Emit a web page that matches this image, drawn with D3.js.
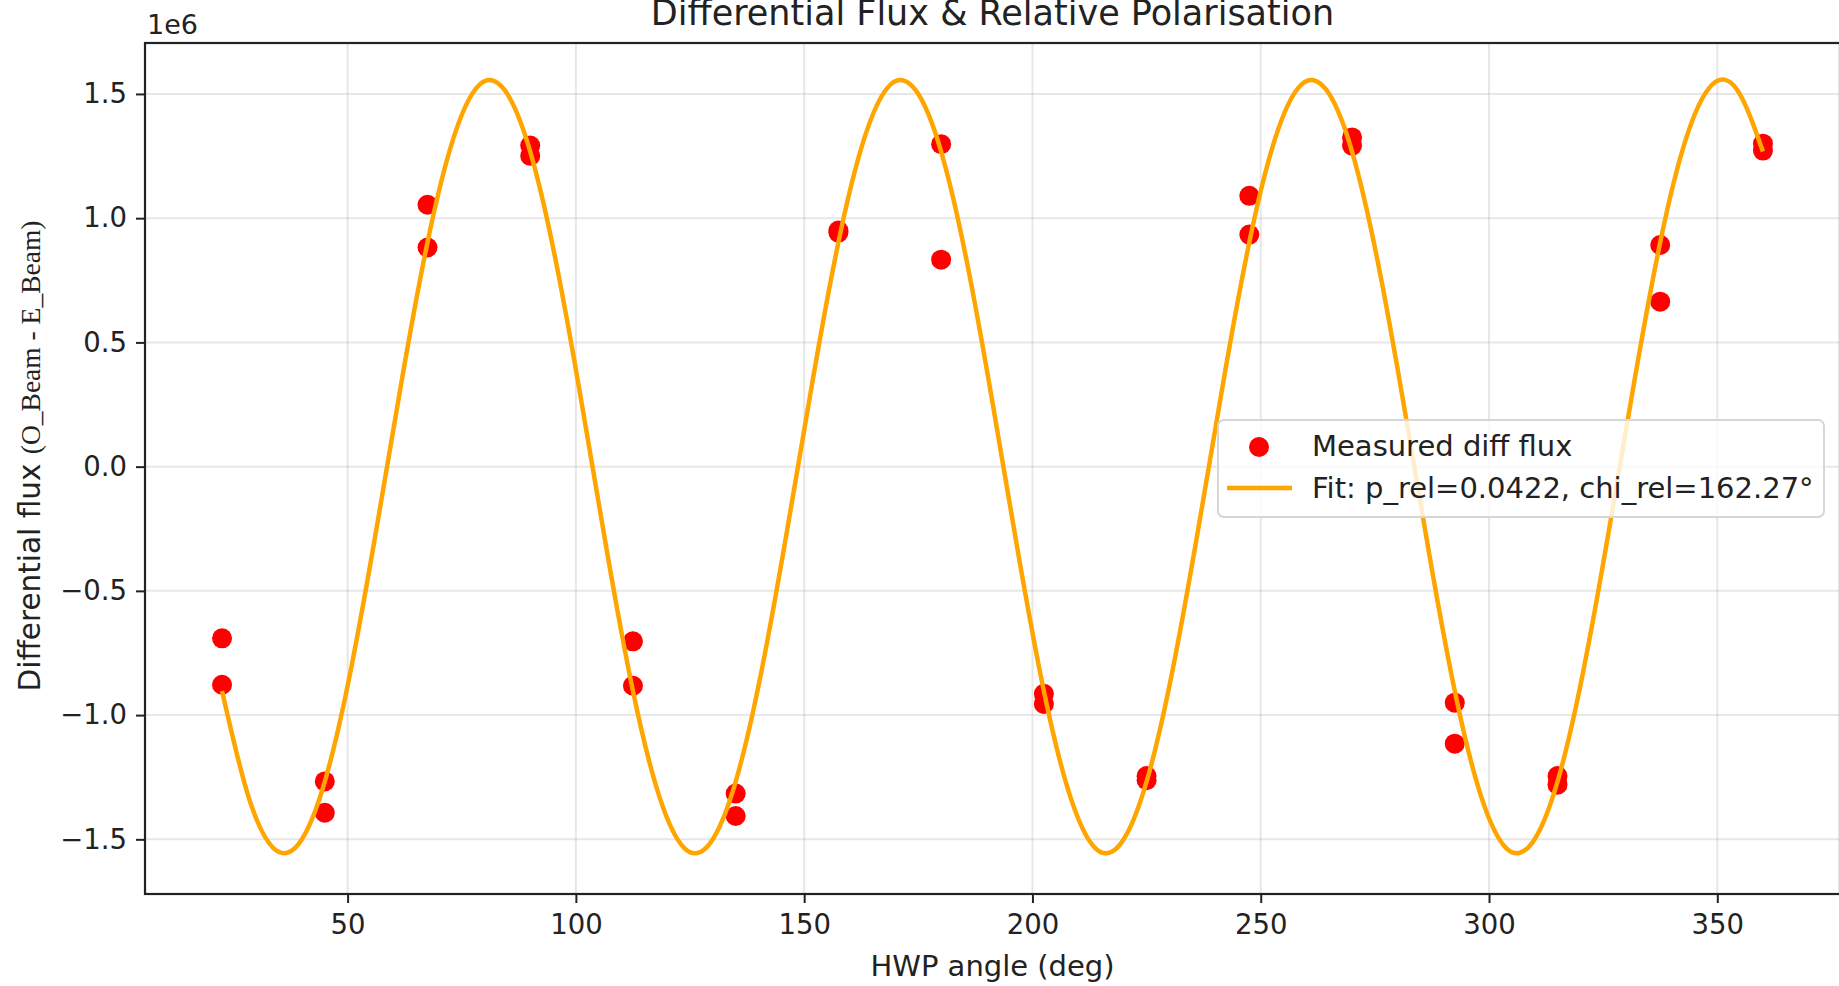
<!DOCTYPE html>
<html>
<head>
<meta charset="utf-8">
<script src="https://cdn.jsdelivr.net/npm/d3@7"></script>
<style>
  html, body { margin: 0; padding: 0; background: #fff; }
  svg { display: block; font-family: "DejaVu Sans", sans-serif; }
</style>
</head>
<body>
<div id="chart"></div>
<script>
// HWP angles (deg) and the two measured differential fluxes at each (units of 1e6)
const hwpAngles = [22.5, 45, 67.5, 90, 112.5, 135, 157.5, 180, 202.5, 225, 247.5, 270, 292.5, 315, 337.5, 360];
const fluxRunA = [-0.691, -1.267, 1.054, 1.292, -0.703, -1.316, 0.942, 1.298, -0.914, -1.245, 1.090, 1.325, -0.950, -1.245, 0.892, 1.300];
const fluxRunB = [-0.878, -1.393, 0.882, 1.251, -0.882, -1.406, 0.950, 0.833, -0.955, -1.262, 0.934, 1.292, -1.115, -1.280, 0.664, 1.272];

// fit curve, every 5.625 deg (units of 1e6)
const fitAngles = [22.5, 28.13, 33.75, 39.38, 45, 50.63, 56.25, 61.88, 67.5, 73.13, 78.75, 84.38,
  90, 95.63, 101.25, 106.88, 112.5, 118.13, 123.75, 129.38, 135, 140.63, 146.25, 151.88,
  157.5, 163.13, 168.75, 174.38, 180, 185.63, 191.25, 196.88, 202.5, 208.13, 213.75, 219.38,
  225, 230.63, 236.25, 241.88, 247.5, 253.13, 258.75, 264.38, 270, 275.63, 281.25, 286.88,
  292.5, 298.13, 303.75, 309.38, 315, 320.63, 326.25, 331.88, 337.5, 343.13, 348.75, 354.38, 360];
const fitValues = [-0.903, -1.319, -1.535, -1.516, -1.268, -0.825, -0.258, 0.349, 0.903, 1.319, 1.535, 1.516,
  1.268, 0.825, 0.258, -0.349, -0.903, -1.319, -1.535, -1.516, -1.268, -0.825, -0.258, 0.349,
  0.903, 1.319, 1.535, 1.516, 1.268, 0.825, 0.258, -0.349, -0.903, -1.319, -1.535, -1.516,
  -1.268, -0.825, -0.258, 0.349, 0.903, 1.319, 1.535, 1.516, 1.268, 0.825, 0.258, -0.349,
  -0.903, -1.319, -1.535, -1.516, -1.268, -0.825, -0.258, 0.349, 0.903, 1.319, 1.535, 1.516, 1.268];

const xTicks = [50, 100, 150, 200, 250, 300, 350];
const yTicks = [-1.5, -1.0, -0.5, 0.0, 0.5, 1.0, 1.5];

const titleText = "Differential Flux & Relative Polarisation";
const xLabel = "HWP angle (deg)";
const fitLabel = "Fit: p_rel=0.0422, chi_rel=162.27°";
const pointsLabel = "Measured diff flux";

const W = 1839, H = 986;
const box = { left: 145, right: 1840, top: 43, bottom: 894 };

const svg = d3.select("#chart").append("svg")
  .attr("width", W)
  .attr("height", H);

const x = d3.scaleLinear().domain([5.625, 376.875]).range([box.left, box.right]);
const y = d3.scaleLinear().domain([-1.72, 1.705]).range([box.bottom, box.top]);

svg.append("clipPath").attr("id", "plotclip")
  .append("rect")
  .attr("x", box.left).attr("y", box.top)
  .attr("width", box.right - box.left).attr("height", box.bottom - box.top);

// grid
const grid = svg.append("g");
grid.selectAll(".gx").data(xTicks).enter().append("line")
  .attr("x1", d => x(d)).attr("x2", d => x(d))
  .attr("y1", box.top).attr("y2", box.bottom)
  .attr("stroke", "#b0b0b0").attr("stroke-opacity", 0.3).attr("stroke-width", 2);
grid.selectAll(".gy").data(yTicks).enter().append("line")
  .attr("y1", d => y(d)).attr("y2", d => y(d))
  .attr("x1", box.left).attr("x2", box.right)
  .attr("stroke", "#b0b0b0").attr("stroke-opacity", 0.3).attr("stroke-width", 2);

// measured points
const points = [];
hwpAngles.forEach((a, i) => {
  points.push({ a: a, v: fluxRunA[i] });
  points.push({ a: a, v: fluxRunB[i] });
});

const plotArea = svg.append("g").attr("clip-path", "url(#plotclip)");

plotArea.selectAll(".pt").data(points).enter().append("circle")
  .attr("cx", d => x(d.a))
  .attr("cy", d => y(d.v))
  .attr("r", 10)
  .attr("fill", "#ff0000");

// fit line on top
const fitData = fitAngles.map((a, i) => ({ a: a, v: fitValues[i] }));
const line = d3.line()
  .x(d => x(d.a))
  .y(d => y(d.v))
  .curve(d3.curveNatural);

plotArea.append("path")
  .datum(fitData)
  .attr("d", line)
  .attr("fill", "none")
  .attr("stroke", "#ffa500")
  .attr("stroke-width", 4.5)
  .attr("stroke-linejoin", "round");

// axes
const fmt = d3.format(".1f");
const xAxis = svg.append("g")
  .attr("transform", `translate(0,${box.bottom})`)
  .call(d3.axisBottom(x).tickValues(xTicks).tickSize(9).tickPadding(11).tickFormat(d3.format("d")));
const yAxis = svg.append("g")
  .attr("transform", `translate(${box.left},0)`)
  .call(d3.axisLeft(y).tickValues(yTicks).tickSize(9).tickPadding(9).tickFormat(fmt));

[xAxis, yAxis].forEach(g => {
  g.select(".domain").remove();
  g.selectAll(".tick line").attr("stroke", "#222").attr("stroke-width", 2);
  g.selectAll(".tick text")
    .attr("fill", "#222")
    .style("font-family", "DejaVu Sans")
    .style("font-size", "27.5px");
});

// spines
svg.append("rect")
  .attr("x", box.left).attr("y", box.top)
  .attr("width", box.right - box.left).attr("height", box.bottom - box.top)
  .attr("fill", "none")
  .attr("stroke", "#222")
  .attr("stroke-width", 2.2);

// offset text
svg.append("text")
  .attr("x", box.left + 2).attr("y", 34)
  .attr("fill", "#222")
  .style("font-size", "27px")
  .text("1e6");

// title (top is clipped by the frame edge in the original too)
svg.append("text")
  .attr("x", (box.left + box.right) / 2).attr("y", 25)
  .attr("text-anchor", "middle")
  .attr("fill", "#222")
  .style("font-size", "35px")
  .text(titleText);

// x label
svg.append("text")
  .attr("x", (box.left + box.right) / 2).attr("y", 976)
  .attr("text-anchor", "middle")
  .attr("fill", "#222")
  .style("font-size", "29px")
  .text(xLabel);

// y label (sans part + serif part)
const yl = svg.append("text")
  .attr("transform", "translate(40,456) rotate(-90)")
  .attr("text-anchor", "middle")
  .attr("fill", "#222");
yl.append("tspan")
  .style("font-family", "DejaVu Sans")
  .style("font-size", "29.5px")
  .text("Differential flux ");
yl.append("tspan")
  .style("font-family", "Liberation Serif")
  .style("font-size", "27.5px")
  .text("(O_Beam - E_Beam)");

// legend
const lg = svg.append("g");
lg.append("rect")
  .attr("x", 1218).attr("y", 420)
  .attr("width", 606).attr("height", 97)
  .attr("rx", 6)
  .attr("fill", "#fff").attr("fill-opacity", 0.8)
  .attr("stroke", "#d6d6d6").attr("stroke-width", 2);
lg.append("circle")
  .attr("cx", 1259).attr("cy", 447).attr("r", 10)
  .attr("fill", "#ff0000");
lg.append("line")
  .attr("x1", 1227).attr("x2", 1292)
  .attr("y1", 488).attr("y2", 488)
  .attr("stroke", "#ffa500").attr("stroke-width", 4.5);
lg.append("text")
  .attr("x", 1312).attr("y", 456)
  .attr("fill", "#222")
  .style("font-size", "29px")
  .text(pointsLabel);
lg.append("text")
  .attr("x", 1312).attr("y", 498)
  .attr("fill", "#222")
  .style("font-size", "29px")
  .text(fitLabel);
</script>
</body>
</html>
